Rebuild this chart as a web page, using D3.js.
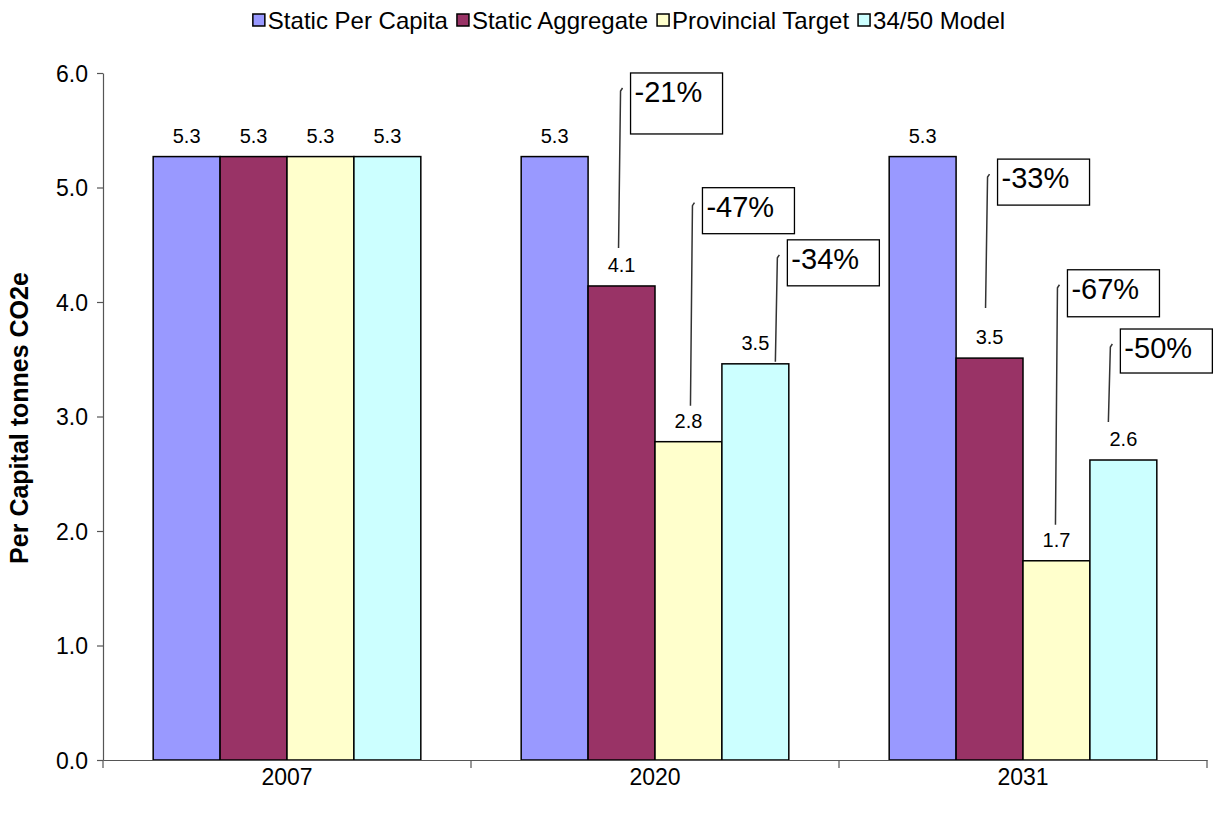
<!DOCTYPE html>
<html><head><meta charset="utf-8">
<script src="https://cdn.jsdelivr.net/npm/d3@7"></script>
<style>body{margin:0;background:#fff}svg{display:block}text{font-family:Arial,"Liberation Sans",sans-serif}</style>
</head><body>
<svg id="chart" width="1217" height="813"></svg>
<script>
const categories = ["2007", "2020", "2031"];
const seriesNames = ["Static Per Capita", "Static Aggregate", "Provincial Target", "34/50 Model"];
const staticPerCapita = [5.27, 5.27, 5.27];
const staticAggregate = [5.27, 4.14, 3.51];
const provincialTarget = [5.27, 2.78, 1.74];
const model3450 = [5.27, 3.46, 2.62];
const yTicks = [0, 1, 2, 3, 4, 5, 6];
const colors = ["#9999FF", "#993366", "#FFFFCC", "#CCFFFF"];
const calloutCategory = ["2020", "2020", "2020", "2031", "2031", "2031"];
const calloutSeries = [1, 2, 3, 1, 2, 3];
const calloutText = ["-21%", "-47%", "-34%", "-33%", "-67%", "-50%"];
// layout of callout leader lines (px): x offset from bar centre, top gap above bar, bottom gap above bar
const calloutLayout = [
  {dx: -2, top: 198, bot: 38, bh: 61},
  {dx: 3, top: 239, bot: 36, bh: 46},
  {dx: 21, top: 109, bot: 2, bh: 46},
  {dx: -3, top: 184, bot: 50, bh: 46},
  {dx: 0, top: 276, bot: 36, bh: 47},
  {dx: -14, top: 116, bot: 38, bh: 44}
];
const seriesValues = [staticPerCapita, staticAggregate, provincialTarget, model3450];

(function () {
const svg = d3.select("#chart");
const pLeft = 103, pRight = 1207, pTop = 73, pBottom = 760;
const y = d3.scaleLinear().domain([0, 6]).range([pBottom, pTop]);
const x0 = d3.scaleBand().domain(categories).range([pLeft, pRight]).padding(0);
const x1 = d3.scaleBand().domain(d3.range(seriesNames.length)).range([0, x0.bandwidth()]).paddingInner(0).paddingOuter(0.75);

const g = svg.append("g");
categories.forEach((c, ci) => {
  seriesValues.forEach((vals, si) => {
    const v = vals[ci];
    g.append("rect")
      .attr("x", x0(c) + x1(si)).attr("y", y(v))
      .attr("width", x1.bandwidth()).attr("height", y(0) - y(v))
      .attr("fill", colors[si]).attr("stroke", "#000").attr("stroke-width", 1.5);
    g.append("text")
      .attr("x", x0(c) + x1(si) + x1.bandwidth() / 2).attr("y", y(v) - 14)
      .attr("text-anchor", "middle").attr("font-size", 20).attr("fill", "#000")
      .text(d3.format(".1f")(v));
  });
});

const yAxis = d3.axisLeft(y).tickValues(yTicks).tickFormat(d3.format(".1f")).tickSize(6).tickSizeOuter(0);
const ya = svg.append("g").attr("transform", `translate(${pLeft},0)`).call(yAxis);
ya.select(".domain").attr("stroke", "#555").attr("stroke-width", 1.2);
ya.selectAll(".tick line").attr("stroke", "#555").attr("stroke-width", 1.2);
ya.selectAll(".tick text").attr("font-size", 23).attr("font-family", "Arial, 'Liberation Sans', sans-serif").attr("fill", "#000").attr("x", -15).attr("dy", "0.36em");

const xa = svg.append("g").attr("transform", `translate(0,${pBottom})`).call(
  d3.axisBottom(x0).tickSize(0).tickSizeOuter(0));
xa.select(".domain").attr("stroke", "#555").attr("stroke-width", 1.2);
xa.selectAll(".tick text").attr("font-size", 23).attr("font-family", "Arial, 'Liberation Sans', sans-serif").attr("fill", "#000").attr("y", 9).attr("dy", "0.71em");
const boundaries = categories.map(c => x0(c)).concat([pRight]);
svg.append("g").selectAll("line").data(boundaries).join("line")
  .attr("x1", d => d).attr("x2", d => d).attr("y1", pBottom).attr("y2", pBottom + 8)
  .attr("stroke", "#555").attr("stroke-width", 1.2);

svg.append("text").attr("transform", `translate(28,418) rotate(-90)`)
  .attr("text-anchor", "middle").attr("font-size", 25).attr("font-weight", "bold")
  .text("Per Capital tonnes CO2e");

calloutText.forEach((t, i) => {
  const c = calloutCategory[i], si = calloutSeries[i], L = calloutLayout[i];
  const v = seriesValues[si][categories.indexOf(c)];
  const cx = x0(c) + x1(si) + x1.bandwidth() / 2 + L.dx;
  const barTop = y(v);
  const yTop = barTop - L.top, yBot = barTop - L.bot;
  svg.append("path")
    .attr("d", `M${cx - 1},${yBot} L${cx + 1},${yTop + 3} L${cx + 3},${yTop}`)
    .attr("fill", "none").attr("stroke", "#333").attr("stroke-width", 1.5);
  const bx = cx + 11, by = yTop - 15;
  svg.append("rect").attr("x", bx).attr("y", by).attr("width", 92).attr("height", L.bh)
    .attr("fill", "#fff").attr("stroke", "#000").attr("stroke-width", 1.3);
  svg.append("text").attr("x", bx + 4).attr("y", by + 29).attr("font-size", 29).text(t);
});

const lg = svg.append("g");
let lx = 0;
seriesNames.forEach((n, i) => {
  const it = lg.append("g").attr("transform", `translate(${lx},0)`);
  it.append("rect").attr("x", 0).attr("y", -6).attr("width", 12).attr("height", 12)
    .attr("fill", colors[i]).attr("stroke", "#000").attr("stroke-width", 1.5);
  const tx = it.append("text").attr("x", 15).attr("y", 0).attr("dy", "0.36em").attr("font-size", 24).text(n);
  lx += 15 + tx.node().getComputedTextLength() + 9;
});
const lw = lx - 9;
lg.attr("transform", `translate(${629 - lw / 2},20)`);
})();
</script>
</body></html>
